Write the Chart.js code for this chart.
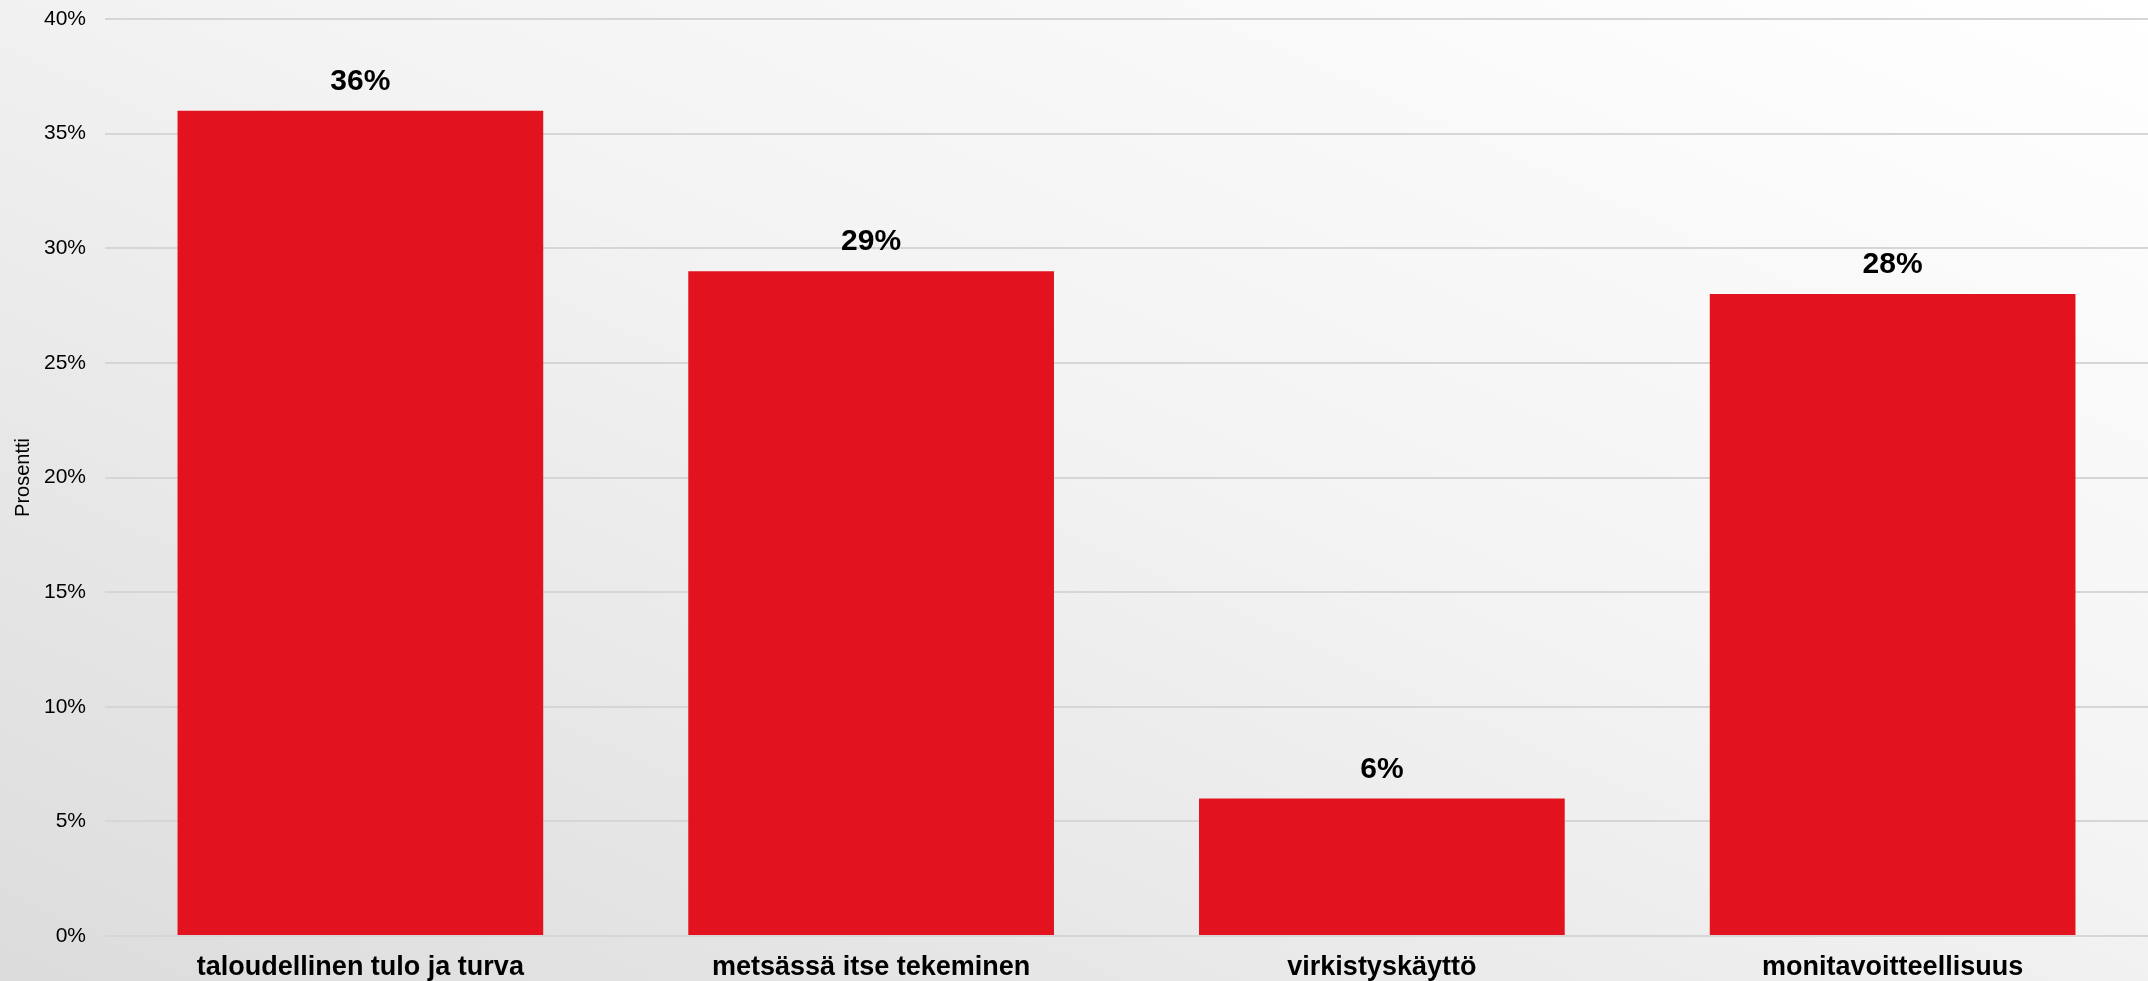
<!DOCTYPE html>
<html>
<head>
<meta charset="utf-8">
<script src="https://cdn.jsdelivr.net/npm/chart.js@4"></script>
<style>
  html, body { margin: 0; padding: 0; }
  body { width: 2148px; height: 981px; overflow: hidden;
         background: linear-gradient(to bottom left, #ffffff 0%, #f3f3f3 45%, #dcdcdc 100%); }
  #wrap { width: 2148px; height: 981px; }
</style>
</head>
<body>
<div id="wrap"><canvas id="myChart"></canvas></div>
<script>
// data
const categories = ["taloudellinen tulo ja turva", "metsässä itse tekeminen", "virkistyskäyttö", "monitavoitteellisuus"];
const values = [36, 29, 6, 28];
const yTitle = "Prosentti";

// value labels above bars
const valueLabels = {
    id: 'valueLabels',
    afterDatasetsDraw(chart) {
        const ctx = chart.ctx;
        const meta = chart.getDatasetMeta(0);
        ctx.save();
        ctx.font = 'bold 30px "Liberation Sans", Arial, sans-serif';
        ctx.fillStyle = '#000';
        ctx.textAlign = 'center';
        ctx.textBaseline = 'middle';
        meta.data.forEach((bar, i) => {
            ctx.fillText(values[i] + '%', bar.x, bar.y - 29);
        });
        ctx.restore();
    }
};

const ctx = document.getElementById('myChart').getContext('2d');
const myChart = new Chart(ctx, {
    type: 'bar',
    data: {
        labels: categories,
        datasets: [{
            data: values,
            backgroundColor: '#e2121f',
            borderWidth: 0,
            categoryPercentage: 0.716,
            barPercentage: 1.0
        }]
    },
    options: {
        responsive: true,
        maintainAspectRatio: false,
        animation: false,
        layout: { padding: { top: 19, right: 0, left: 0, bottom: 0 } },
        plugins: {
            legend: { display: false },
            tooltip: { enabled: false }
        },
        scales: {
            x: {
                grid: { display: false, drawTicks: false },
                border: { display: false },
                ticks: {
                    color: '#000',
                    padding: 15,
                    maxRotation: 0,
                    font: { family: '"Liberation Sans", Arial, sans-serif', size: 27, weight: 'bold' }
                },
                afterFit(scale) { scale.height = 45; }
            },
            y: {
                min: 0,
                max: 40,
                ticks: {
                    stepSize: 5,
                    color: '#000',
                    padding: 19,
                    callback: v => v + '%',
                    font: { family: '"Liberation Sans", Arial, sans-serif', size: 21 }
                },
                grid: { color: '#d6d6d6', lineWidth: 2, drawTicks: false },
                border: { display: false },
                title: {
                    display: true,
                    text: yTitle,
                    color: '#000',
                    padding: { top: 11, bottom: 0 },
                    font: { family: '"Liberation Sans", Arial, sans-serif', size: 20 }
                },
                afterFit(scale) {
                    scale.width = 105;
                    scale.paddingTop = 0;
                    scale.paddingBottom = 0;
                }
            }
        }
    },
    plugins: [valueLabels]
});
</script>
</body>
</html>
